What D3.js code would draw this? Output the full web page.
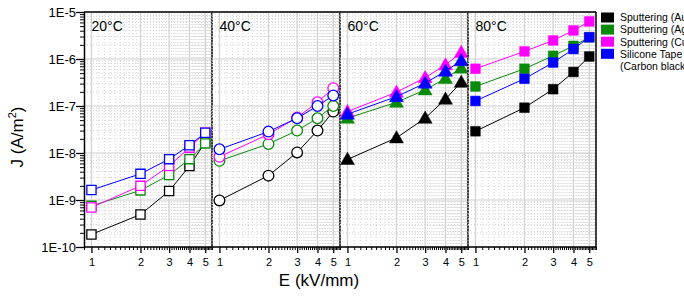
<!DOCTYPE html>
<html>
<head>
<meta charset="utf-8">
<script src="https://cdn.jsdelivr.net/npm/d3@7"></script>
<style>
  body { margin: 0; background: #fff; }
  svg { display: block; font-family: "Liberation Sans", Arial, sans-serif; }
</style>
</head>
<body>
<div id="chart"></div>
<script>
// E field values, one set per temperature panel
const fields = [1, 2, 3, 4, 5];
const temps = ['20°C', '40°C', '60°C', '80°C'];
const markerKinds = ['square-open', 'circle-open', 'triangle', 'square'];

// J (A/m2) per series, rows = temperature panels
const au = [
  [1.85e-10, 4.9e-10, 1.55e-9, 5.3e-9, 1.7e-8],
  [9.8e-10, 3.3e-9, 1.03e-8, 3.0e-8, 7.6e-8],
  [7.3e-9, 2.1e-8, 5.5e-8, 1.4e-7, 3.2e-7],
  [2.9e-8, 9.2e-8, 2.28e-7, 5.3e-7, 1.13e-6]
];
const ag = [
  [7.5e-10, 1.6e-9, 3.4e-9, 7.4e-9, 1.6e-8],
  [6.8e-9, 1.56e-8, 3.0e-8, 5.5e-8, 1.0e-7],
  [5.5e-8, 1.2e-7, 2.2e-7, 3.85e-7, 6.4e-7],
  [2.6e-7, 6.2e-7, 1.17e-6, 1.9e-6, 2.9e-6]
];
const cu = [
  [6.95e-10, 2.0e-9, 5.3e-9, 1.3e-8, 2.7e-8],
  [8.3e-9, 2.5e-8, 5.7e-8, 1.2e-7, 2.4e-7],
  [7.6e-8, 1.97e-7, 4.0e-7, 7.5e-7, 1.38e-6],
  [6.2e-7, 1.45e-6, 2.48e-6, 4.05e-6, 6.3e-6]
];
const tape = [
  [1.63e-9, 3.6e-9, 7.4e-9, 1.46e-8, 2.7e-8],
  [1.2e-8, 2.85e-8, 5.5e-8, 1.0e-7, 1.67e-7],
  [6.7e-8, 1.58e-7, 3.06e-7, 5.5e-7, 9.2e-7],
  [1.28e-7, 3.8e-7, 8.4e-7, 1.63e-6, 2.9e-6]
];
const yTicks = [1e-10, 1e-9, 1e-8, 1e-7, 1e-6, 1e-5];

const series = [
  { name: 'Sputtering (Au)', color: '#000000', values: au },
  { name: 'Sputtering (Ag)', color: '#0a8a0a', values: ag },
  { name: 'Sputtering (Cu)', color: '#ff00ff', values: cu },
  { name: 'Silicone Tape', color: '#0000ff', values: tape }
];

const width = 684, height = 297;
const plotLeft = 84, plotTop = 12, plotBottom = 247, panelW = 128;

const svg = d3.select('#chart').append('svg')
  .attr('width', width).attr('height', height);

const y = d3.scaleLog().domain([1e-10, 1e-5]).range([plotBottom, plotTop]);

const yMinor = [];
yTicks.slice(0, -1).forEach(d => { for (let k = 2; k <= 9; k++) yMinor.push(d * k); });

const xMinor = [];
for (let k = 9; k <= 55; k++) if (k % 10 !== 0) xMinor.push(k / 10);

const gridColor = '#d4d4d4';

temps.forEach((label, p) => {
  const x0 = plotLeft + p * panelW;
  const x = d3.scaleLog().domain([0.9, 5.5]).range([x0, x0 + panelW]);
  const g = svg.append('g');

  // minor grid (dotted)
  g.selectAll('.vminor').data(xMinor).enter().append('line')
    .attr('x1', d => x(d)).attr('x2', d => x(d))
    .attr('y1', plotTop).attr('y2', plotBottom)
    .attr('stroke', gridColor).attr('stroke-dasharray', '1,2');
  g.selectAll('.hminor').data(yMinor).enter().append('line')
    .attr('x1', x0).attr('x2', x0 + panelW)
    .attr('y1', d => y(d)).attr('y2', d => y(d))
    .attr('stroke', gridColor).attr('stroke-dasharray', '1,2');

  // major grid
  g.selectAll('.vmajor').data(fields).enter().append('line')
    .attr('x1', d => x(d)).attr('x2', d => x(d))
    .attr('y1', plotTop).attr('y2', plotBottom)
    .attr('stroke', '#cfcfcf').attr('stroke-width', 1.2);
  g.selectAll('.hmajor').data(yTicks).enter().append('line')
    .attr('x1', x0).attr('x2', x0 + panelW)
    .attr('y1', d => y(d)).attr('y2', d => y(d))
    .attr('stroke', '#cfcfcf').attr('stroke-width', 1.2);

  // bottom axis, major + minor
  g.append('g')
    .attr('transform', `translate(0,${plotBottom})`)
    .call(d3.axisBottom(x).tickValues(xMinor).tickSize(3).tickFormat(''))
    .call(a => a.select('.domain').remove());
  g.append('g')
    .attr('transform', `translate(0,${plotBottom})`)
    .call(d3.axisBottom(x).tickValues(fields).tickSize(6).tickSizeOuter(0).tickFormat(d3.format('d')))
    .call(a => a.select('.domain').remove())
    .call(a => a.selectAll('.tick line').attr('stroke-width', 1.3))
    .call(a => a.selectAll('.tick text').attr('font-size', 11).attr('dy', '0.9em').attr('fill', '#000'));

  // series
  series.forEach(s => {
    const pts = fields.map((e, i) => [e, s.values[p][i]]);
    g.append('path')
      .datum(pts)
      .attr('fill', 'none')
      .attr('stroke', s.color)
      .attr('stroke-width', 1)
      .attr('d', d3.line().x(d => x(d[0])).y(d => y(d[1])));

    const kind = markerKinds[p];
    const filled = !kind.endsWith('open');
    const sym = kind.startsWith('square') ? d3.symbolSquare
      : kind.startsWith('circle') ? d3.symbolCircle : d3.symbolTriangle;
    const size = kind.startsWith('triangle') ? 75 : (kind.startsWith('circle') ? 90 : 85);
    g.selectAll(null).data(pts).enter().append('path')
      .attr('transform', d => `translate(${x(d[0])},${y(d[1]) + (sym === d3.symbolTriangle ? 1 : 0)})`)
      .attr('d', d3.symbol().type(sym).size(filled ? size + 10 : size))
      .attr('fill', filled ? s.color : '#fff')
      .attr('stroke', s.color)
      .attr('stroke-width', filled ? 0.5 : 1.3);
  });

  // panel label
  g.append('text')
    .attr('x', x0 + 7.5).attr('y', plotTop + 18.7)
    .attr('font-size', 14)
    .text(label);

  // panel right separator
  g.append('line')
    .attr('x1', x0 + panelW).attr('x2', x0 + panelW)
    .attr('y1', plotTop).attr('y2', plotBottom)
    .attr('stroke', '#000').attr('stroke-width', 1.5);
});

// left axis
svg.append('g')
  .attr('transform', `translate(${plotLeft},0)`)
  .call(d3.axisLeft(y).tickValues(yMinor).tickSize(4).tickFormat(''))
  .call(a => a.select('.domain').remove());
svg.append('g')
  .attr('transform', `translate(${plotLeft},0)`)
  .call(d3.axisLeft(y).tickValues(yTicks).tickSize(8).tickSizeOuter(0)
    .tickFormat(d => '1E' + Math.round(Math.log10(d))))
  .call(a => a.select('.domain').attr('stroke-width', 1.5))
  .call(a => a.selectAll('.tick line').attr('stroke-width', 1.3))
  .call(a => a.selectAll('.tick text').attr('font-size', 13).attr('fill', '#000').attr('x', -8));

// bottom & top frame
const plotRight = plotLeft + temps.length * panelW;
svg.append('line')
  .attr('x1', plotLeft).attr('x2', plotRight)
  .attr('y1', plotBottom).attr('y2', plotBottom)
  .attr('stroke', '#000').attr('stroke-width', 1.5);
svg.append('line')
  .attr('x1', plotLeft).attr('x2', plotRight)
  .attr('y1', plotTop).attr('y2', plotTop)
  .attr('stroke', '#000').attr('stroke-width', 1.3);

// axis titles
svg.append('text')
  .attr('x', 319).attr('y', 286)
  .attr('text-anchor', 'middle').attr('font-size', 17)
  .text('E (kV/mm)');
const yt = svg.append('text')
  .attr('transform', 'translate(23,137) rotate(-90)')
  .attr('text-anchor', 'middle').attr('font-size', 17);
yt.append('tspan').text('J (A/m');
yt.append('tspan').attr('font-size', 11).attr('dy', -7).text('2');
yt.append('tspan').attr('dy', 7).text(')');

// legend
const legendRows = series.map(s => s.name).concat(['(Carbon black)']);
const leg = svg.append('g').attr('transform', 'translate(601,0)');
legendRows.forEach((name, i) => {
  const ry = 17.5 + i * 12.1;
  if (i < series.length) {
    leg.append('rect')
      .attr('x', 0).attr('y', ry - 5).attr('width', 13).attr('height', 10)
      .attr('fill', series[i].color);
  }
  leg.append('text')
    .attr('x', 19).attr('y', ry + 3.8)
    .attr('font-size', 10.5)
    .text(name);
});
</script>
</body>
</html>
